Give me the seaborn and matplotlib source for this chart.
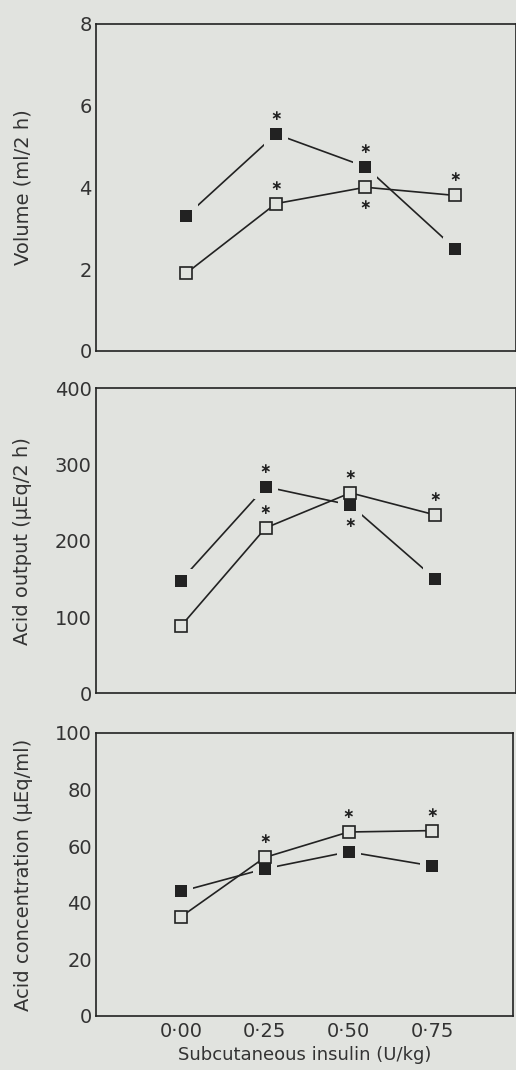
import numpy as np
import pandas as pd
import matplotlib
matplotlib.use("Agg")
import matplotlib.pyplot as plt
import seaborn as sns

sns.set_style("white")
plt.rcParams['font.family'] = ['DejaVu Sans']

BG = '#e1e3df'
INK = '#222222'
TXT = '#333333'

# dados
dose = [0.00, 0.25, 0.50, 0.75]
dose_labels = ['0·00', '0·25', '0·50', '0·75']

volume_cheio = [3.3, 5.3, 4.5, 2.5]
volume_aberto = [1.9, 3.6, 4.0, 3.8]
volume_ast_cheio = [0, 1, 1, 0]       # 1 = acima, -1 = abaixo, 0 = sem
volume_ast_aberto = [0, 1, -1, 1]

acido_cheio = [148, 271, 247, 150]
acido_aberto = [88, 217, 263, 234]
acido_ast_cheio = [0, 1, -1, 0]
acido_ast_aberto = [0, 1, 1, 1]

conc_cheio = [44, 52, 58, 53]
conc_aberto = [35, 56, 65, 65.5]
conc_ast_cheio = [0, 0, 0, 0]
conc_ast_aberto = [0, 1, 1, 1]

paineis = [
    dict(cheio=volume_cheio, aberto=volume_aberto, ast_c=volume_ast_cheio, ast_a=volume_ast_aberto,
         ylim=(0, 8), yticks=[0, 2, 4, 6, 8], ylabel='Volume (ml/2 h)',
         pos=[0.186, 0.672, 0.814, 0.306], xlim=(-0.252, 0.92)),
    dict(cheio=acido_cheio, aberto=acido_aberto, ast_c=acido_ast_cheio, ast_a=acido_ast_aberto,
         ylim=(0, 400), yticks=[0, 100, 200, 300, 400], ylabel='Acid output (\u03bcEq/2 h)',
         pos=[0.186, 0.352, 0.814, 0.285], xlim=(-0.25, 0.988)),
    dict(cheio=conc_cheio, aberto=conc_aberto, ast_c=conc_ast_cheio, ast_a=conc_ast_aberto,
         ylim=(0, 100), yticks=[0, 20, 40, 60, 80, 100], ylabel='Acid concentration (\u03bcEq/ml)',
         pos=[0.186, 0.0505, 0.808, 0.2645], xlim=(-0.253, 0.99)),
]

fig = plt.figure(figsize=(5.16, 10.70), dpi=100)
fig.patch.set_facecolor(BG)


def asteriscos(ax, valores, flags):
    for x, y, f in zip(dose, valores, flags):
        if f == 0:
            continue
        ax.annotate('\u2217', xy=(x, y), xytext=(0, 13 * f), textcoords='offset points',
                    ha='center', va='center', fontsize=10, color=INK, fontweight='bold')


for i, p in enumerate(paineis):
    ax = fig.add_axes(p['pos'])
    ax.set_facecolor(BG)

    df_c = pd.DataFrame({'dose': dose, 'valor': p['cheio']})
    df_a = pd.DataFrame({'dose': dose, 'valor': p['aberto']})

    # linha dos quadrados cheios, com "buraco" em volta do marcador
    sns.lineplot(data=df_c, x='dose', y='valor', ax=ax, color=INK, lw=1.2,
                 marker='s', markersize=17, markerfacecolor=BG, markeredgecolor=BG,
                 markeredgewidth=0, zorder=2)
    sns.lineplot(data=df_a, x='dose', y='valor', ax=ax, color=INK, lw=1.2,
                 marker='s', markersize=9, markerfacecolor=BG, markeredgecolor=INK,
                 markeredgewidth=1.2, zorder=3)
    sns.scatterplot(data=df_c, x='dose', y='valor', ax=ax, color=INK, marker='s',
                    s=85, linewidth=0, zorder=4)

    asteriscos(ax, p['cheio'], p['ast_c'])
    asteriscos(ax, p['aberto'], p['ast_a'])

    ax.set_xlim(*p['xlim'])
    ax.set_ylim(*p['ylim'])
    ax.set_yticks(p['yticks'])
    ax.set_xticks(dose)
    if i == 2:
        ax.set_xticklabels(dose_labels)
        ax.set_xlabel('Subcutaneous insulin (U/kg)', fontsize=13, color=TXT, labelpad=4)
    else:
        ax.set_xticklabels([])
        ax.set_xlabel('')
    ax.set_ylabel(p['ylabel'], fontsize=14, color=TXT)
    ax.yaxis.set_label_coords(-0.152, 0.5)

    ax.tick_params(axis='y', direction='in', length=10, width=1.1, color=INK,
                   labelsize=14, labelcolor=TXT, pad=3)
    ax.tick_params(axis='x', direction='in', length=9, width=1.1, color=INK,
                   labelsize=14, labelcolor=TXT, pad=4)
    for s in ax.spines.values():
        s.set_color(INK)
        s.set_linewidth(1.2)
        s.set_visible(True)
    ax.grid(False)

fig.savefig('out.png', dpi=100, facecolor=BG)
